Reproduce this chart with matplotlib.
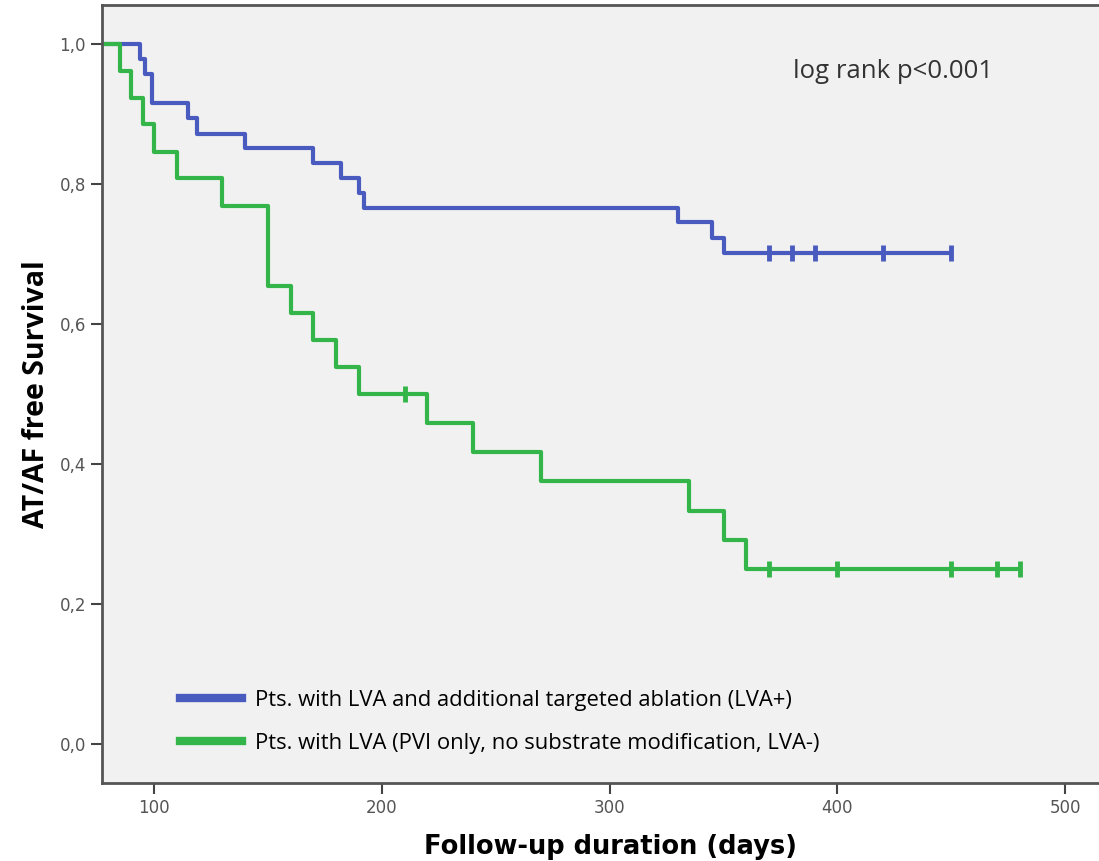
import matplotlib
matplotlib.use("Agg")
import matplotlib.pyplot as plt
from matplotlib.lines import Line2D
import numpy as np

# Kaplan-Meier steps
blue_times = [0, 94, 96, 99, 115, 119, 140, 170, 182, 190, 192, 330, 345, 350, 450]
blue_surv = [1.0, 0.979, 0.957, 0.915, 0.894, 0.872, 0.851, 0.830, 0.809, 0.787, 0.766,
             0.745, 0.723, 0.702, 0.702]
blue_censor = [370, 380, 390, 420, 450]

green_times = [0, 85, 90, 95, 100, 110, 130, 150, 160, 170, 180, 190, 220, 240, 270,
               335, 350, 360, 480]
green_surv = [1.0, 0.962, 0.923, 0.885, 0.846, 0.808, 0.769, 0.654, 0.615, 0.577, 0.538,
              0.500, 0.458, 0.417, 0.375, 0.333, 0.292, 0.250, 0.250]
green_censor = [210, 370, 400, 450, 470, 480]

labels = ["Pts. with LVA and additional targeted ablation (LVA+)",
          "Pts. with LVA (PVI only, no substrate modification, LVA-)"]
xticks = [100, 200, 300, 400, 500]
yticks = [0.0, 0.2, 0.4, 0.6, 0.8, 1.0]

blue = "#4a5bbf"
green = "#34b54a"


def level_at(times, surv, t):
    idx = np.searchsorted(times, t, side="right") - 1
    return np.array(surv)[idx]


fig = plt.figure(figsize=(10.99, 8.61), dpi=100)
ax = fig.add_axes([0.0928, 0.0906, 0.9072, 0.9036])
ax.set_facecolor("#f1f1f1")

ax.step(blue_times, blue_surv, where="post", color=blue, lw=3)
ax.plot(blue_censor, level_at(blue_times, blue_surv, blue_censor), ls="none",
        marker="|", ms=11, mew=3.5, color=blue)
ax.step(green_times, green_surv, where="post", color=green, lw=3)
ax.plot(green_censor, level_at(green_times, green_surv, green_censor), ls="none",
        marker="|", ms=11, mew=3.5, color=green)

ax.set_xlim(77.2, 514.8)
ax.set_ylim(-0.0557, 1.0557)
ax.set_xticks(xticks)
ax.set_yticks(yticks)
ax.set_yticklabels([f"{v:.1f}".replace(".", ",") for v in yticks])
ax.tick_params(direction="out", length=8, width=1.5, color="#444444",
               labelsize=12, labelcolor="#555555")

for s in ["left", "bottom", "top"]:
    ax.spines[s].set_color("#555555")
    ax.spines[s].set_linewidth(2)
ax.spines["right"].set_visible(False)

ax.set_xlabel("Follow-up duration (days)", fontsize=18.5, fontweight="bold",
              family="DejaVu Sans", labelpad=12)
ax.xaxis.label.set_x(0.51)
ax.set_ylabel("AT/AF free Survival", fontsize=20.5, fontweight="bold",
              family="Open Sans", labelpad=6)

ax.text(380.5, 0.951, "log rank p<0.001", fontsize=18.5, family="Open Sans",
        color="#333333", va="baseline")

handles = [Line2D([], [], color=blue, lw=6), Line2D([], [], color=green, lw=6)]
ax.legend(handles, labels, loc="lower left", bbox_to_anchor=(0.058, 0.012),
          frameon=False, handlelength=2.85, handletextpad=0.6, labelspacing=1.0,
          prop={"family": "Open Sans", "size": 15.8})

fig.savefig("out.png", dpi=100)
